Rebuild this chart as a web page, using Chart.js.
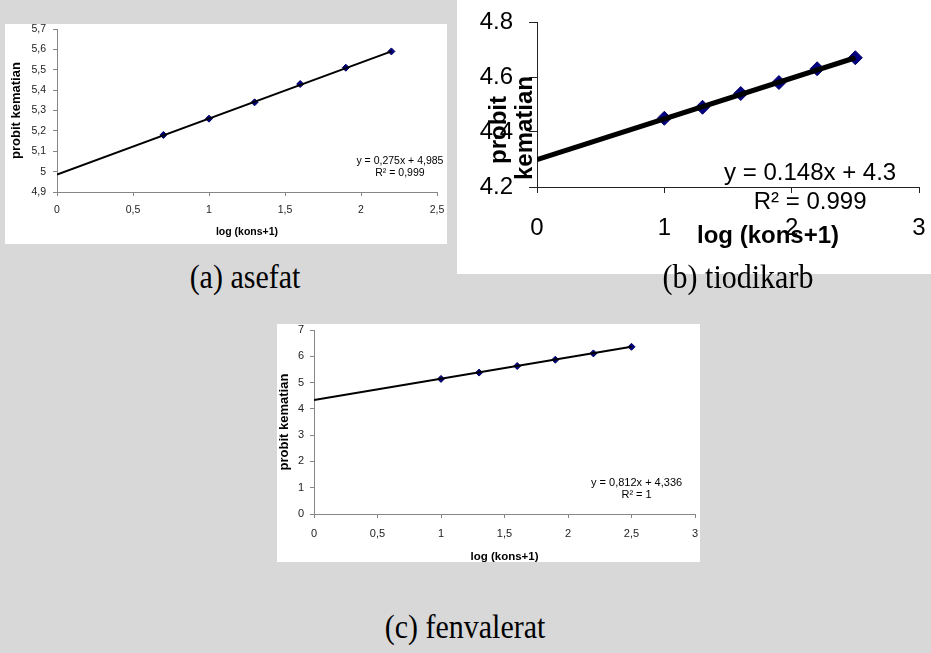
<!DOCTYPE html>
<html><head><meta charset="utf-8">
<script src="https://cdn.jsdelivr.net/npm/chart.js@4.4.1/dist/chart.umd.min.js"></script>
<style>
body{margin:0;width:931px;height:653px;background:#d8d8d8;position:relative;overflow:hidden;}
.box{position:absolute;background:#fff;}
canvas{position:absolute;}
.cap{position:absolute;font-family:'Liberation Serif','Times New Roman',serif;font-size:30px;color:#000;white-space:nowrap;transform:translate(-50%,-50%) scaleY(1.12);}
</style></head><body>
<div class="box" style="left:5px;top:24px;width:442px;height:220px"></div>
<div class="box" style="left:457px;top:0px;width:474px;height:274px"></div>
<div class="box" style="left:277px;top:324px;width:423px;height:238px"></div>
<canvas id="ca" width="460" height="250" style="left:0;top:0"></canvas>
<canvas id="cb" width="474" height="274" style="left:457px;top:0"></canvas>
<canvas id="cc" width="440" height="260" style="left:270px;top:310px"></canvas>
<div class="cap" style="left:245px;top:277px">(a) asefat</div>
<div class="cap" style="left:738px;top:277px">(b) tiodikarb</div>
<div class="cap" style="left:465px;top:627px">(c) fenvalerat</div>
<script>
// ---- (a) asefat ----
const xA = [0.7, 1.0, 1.3, 1.6, 1.9, 2.2];
const yA = [5.18, 5.26, 5.34, 5.43, 5.51, 5.59];
const trendXA = [0, 2.2];
const trendYA = [4.985, 5.59];
const xTicksA = [0, 0.5, 1, 1.5, 2, 2.5];
const xTickLabelsA = ['0', '0,5', '1', '1,5', '2', '2,5'];
const yTicksA = [4.9, 5.0, 5.1, 5.2, 5.3, 5.4, 5.5, 5.6, 5.7];
const yTickLabelsA = ['4,9', '5', '5,1', '5,2', '5,3', '5,4', '5,5', '5,6', '5,7'];
const eqA = ['y = 0,275x + 4,985', 'R² = 0,999'];

// ---- (b) tiodikarb ----
const xB = [1.0, 1.3, 1.6, 1.9, 2.2, 2.5];
const yB = [4.45, 4.49, 4.54, 4.58, 4.63, 4.67];
const trendXB = [0, 2.5];
const trendYB = [4.3, 4.67];
const xTicksB = [0, 1, 2, 3];
const xTickLabelsB = ['0', '1', '2', '3'];
const yTicksB = [4.2, 4.4, 4.6, 4.8];
const yTickLabelsB = ['4.2', '4.4', '4.6', '4.8'];
const eqB = ['y = 0.148x + 4.3', 'R² = 0.999'];

// ---- (c) fenvalerat ----
const xC = [1.0, 1.3, 1.6, 1.9, 2.2, 2.5];
const yC = [5.14, 5.38, 5.63, 5.87, 6.11, 6.36];
const trendXC = [0, 2.5];
const trendYC = [4.336, 6.366];
const xTicksC = [0, 0.5, 1, 1.5, 2, 2.5, 3];
const xTickLabelsC = ['0', '0,5', '1', '1,5', '2', '2,5', '3'];
const yTicksC = [0, 1, 2, 3, 4, 5, 6, 7];
const yTickLabelsC = ['0', '1', '2', '3', '4', '5', '6', '7'];
const eqC = ['y = 0,812x + 4,336', 'R² = 1'];

const yTitle = 'probit kematian';
const xTitle = 'log (kons+1)';
const SANS = "'Liberation Sans', Arial, sans-serif";

const textPlugin = {
  id: 'txt',
  afterDatasetsDraw(chart, args, o) {
    const c = chart.ctx;
    c.save();
    c.fillStyle = o.color || '#000';
    c.textAlign = 'center';
    c.textBaseline = 'middle';
    (o.items || []).forEach(it => {
      c.save();
      c.font = it.font;
      let px = it.px, py = it.py;
      if (it.dx !== undefined) px = chart.scales.x.getPixelForValue(it.dx);
      if (it.dy !== undefined) py = chart.scales.y.getPixelForValue(it.dy);
      c.translate(px, py);
      if (it.rot) c.rotate(it.rot);
      c.fillText(it.text, 0, 0);
      c.restore();
    });
    c.restore();
  }
};

function noPad(s) { s.paddingTop = 0; s.paddingBottom = 0; s.paddingLeft = 0; s.paddingRight = 0; }

function build(id, p) {
  return new Chart(document.getElementById(id), {
    type: 'scatter',
    data: { datasets: [
      { data: p.tx.map((x, i) => ({x, y: p.ty[i]})), showLine: true, borderColor: '#000',
        borderWidth: p.lw, pointRadius: 0, order: 0 },
      { data: p.x.map((x, i) => ({x, y: p.y[i]})), pointStyle: 'rectRot', pointRadius: p.pr,
        backgroundColor: '#000080', borderColor: '#000066', borderWidth: 1, order: 1 }
    ]},
    options: {
      responsive: false, animation: false, devicePixelRatio: 1,
      layout: { padding: p.pad, autoPadding: false },
      plugins: { legend: {display: false}, tooltip: {enabled: false}, txt: {items: p.items, color: '#000'} },
      scales: {
        x: {
          type: 'linear', min: p.xt[0], max: p.xt[p.xt.length - 1],
          afterBuildTicks: s => { s.ticks = p.xt.map(v => ({value: v})); },
          afterFit: s => { s.height = p.xh; noPad(s); },
          ticks: { callback: (v, i) => p.xl[i], font: {family: SANS, size: p.fs}, color: p.tc,
                   padding: p.xtp, maxRotation: 0, autoSkip: false },
          grid: { drawOnChartArea: false, tickLength: p.xtl, color: p.ac },
          border: { color: p.ac, width: 1 },
          title: p.xTitle
        },
        y: {
          type: 'linear', min: p.yt[0], max: p.yt[p.yt.length - 1],
          afterBuildTicks: s => { s.ticks = p.yt.map(v => ({value: v})); },
          afterFit: s => { s.width = p.yw; noPad(s); },
          ticks: { callback: (v, i) => p.yl[i], font: {family: SANS, size: p.fs}, color: p.tc,
                   padding: p.ytp, autoSkip: false },
          grid: { drawOnChartArea: false, tickLength: p.ytl, color: p.ac },
          border: { color: p.ac, width: 1 },
          title: p.yTitle
        }
      }
    },
    plugins: [textPlugin]
  });
}

build('ca', {
  x: xA, y: yA, tx: trendXA, ty: trendYA, xt: xTicksA, xl: xTickLabelsA, yt: yTicksA, yl: yTickLabelsA,
  lw: 2, pr: 3.5, pad: {left: 0, top: 29, right: 23, bottom: 8}, xh: 50, yw: 57, fs: 10.5, tc: '#222', ac: '#868686',
  xtp: 8, xtl: 4, ytp: 7, ytl: 4,
  xTitle: {display: true, text: xTitle, font: {family: SANS, size: 10.5, weight: 'bold'}, color: '#000', padding: {top: 0, bottom: 4}},
  yTitle: {display: true, text: yTitle, font: {family: SANS, size: 13, weight: 'bold'}, color: '#000', padding: {top: 8.5, bottom: 0}},
  items: [
    {text: eqA[0], dx: 2.256, dy: 5.052, font: `10.5px ${SANS}`},
    {text: eqA[1], dx: 2.256, dy: 4.993, font: `10.5px ${SANS}`}
  ]
});

build('cb', {
  x: xB, y: yB, tx: trendXB, ty: trendYB, xt: xTicksB, xl: xTickLabelsB, yt: yTicksB, yl: yTickLabelsB,
  lw: 5, pr: 7, pad: {left: 0, top: 22, right: 12, bottom: 0}, xh: 87, yw: 80, fs: 24, tc: '#000', ac: '#222',
  xtp: 21, xtl: 6, ytp: 16, ytl: 8,
  xTitle: {display: false}, yTitle: {display: false},
  items: [
    {text: eqB[0], dx: 2.145, dy: 4.251, font: `24px ${SANS}`},
    {text: eqB[1], dx: 2.145, dy: 4.143, font: `24px ${SANS}`},
    {text: 'probit', px: 42, py: 130, rot: -Math.PI / 2, font: `bold 24px ${SANS}`},
    {text: 'kematian', px: 68, py: 128, rot: -Math.PI / 2, font: `bold 24px ${SANS}`},
    {text: xTitle, px: 311, py: 236, font: `bold 24px ${SANS}`}
  ]
});

build('cc', {
  x: xC, y: yC, tx: trendXC, ty: trendYC, xt: xTicksC, xl: xTickLabelsC, yt: yTicksC, yl: yTickLabelsC,
  lw: 2, pr: 3.5, pad: {left: 0, top: 20, right: 15, bottom: 4}, xh: 52, yw: 44, fs: 11, tc: '#222', ac: '#868686',
  xtp: 9, xtl: 4, ytp: 6, ytl: 4,
  xTitle: {display: true, text: xTitle, font: {family: SANS, size: 11.5, weight: 'bold'}, color: '#000', padding: {top: 0, bottom: 2.4}},
  yTitle: {display: true, text: yTitle, font: {family: SANS, size: 13, weight: 'bold'}, color: '#000', padding: {top: 6.5, bottom: 0}},
  items: [
    {text: eqC[0], dx: 2.54, dy: 1.18, font: `11px ${SANS}`},
    {text: eqC[1], dx: 2.54, dy: 0.72, font: `11px ${SANS}`}
  ]
});
</script>
</body></html>
